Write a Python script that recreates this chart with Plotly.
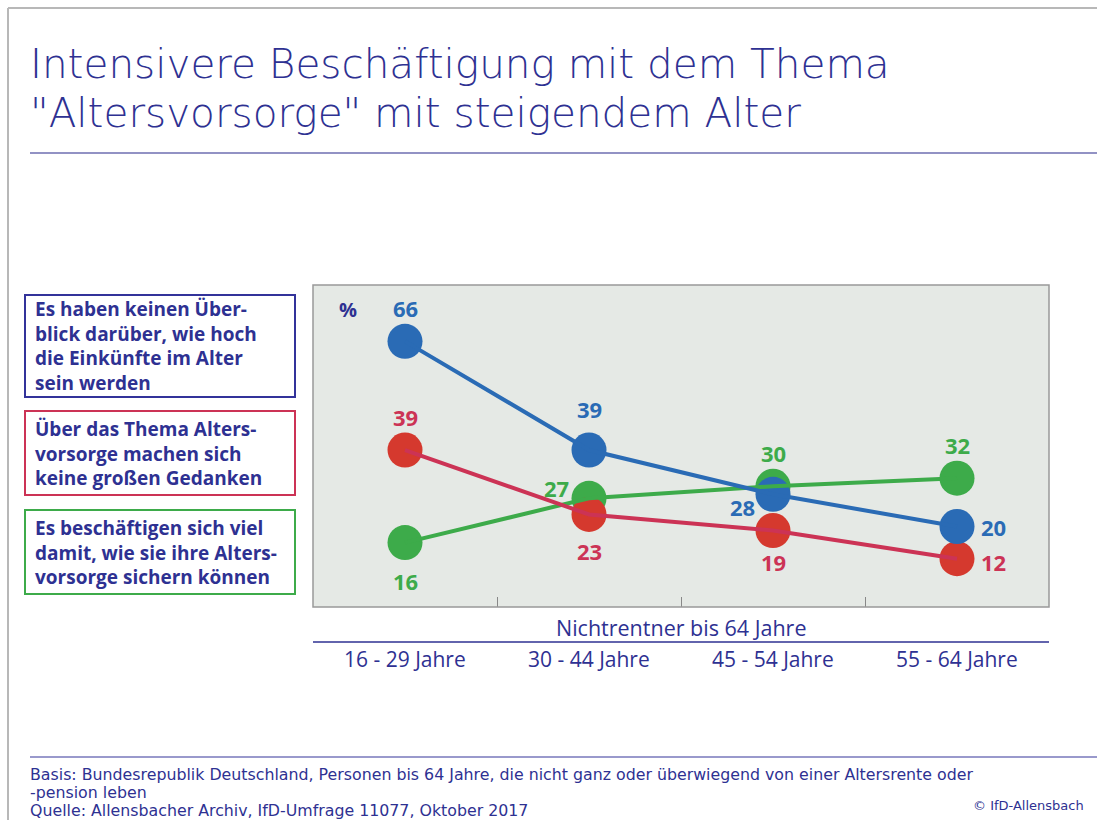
import plotly.graph_objects as go

W, H = 1097, 820

categories = ["16 - 29 Jahre", "30 - 44 Jahre", "45 - 54 Jahre", "55 - 64 Jahre"]
group_label = "Nichtrentner bis 64 Jahre"

series_names = [
    ["Es haben keinen Über-", "blick darüber, wie hoch", "die Einkünfte im Alter", "sein werden"],
    ["Über das Thema Alters-", "vorsorge machen sich", "keine großen Gedanken"],
    ["Es beschäftigen sich viel", "damit, wie sie ihre Alters-", "vorsorge sichern können"],
]
blue_values = [66, 39, 28, 20]
red_values = [39, 23, 19, 12]
green_values = [16, 27, 30, 32]

title_lines = ["Intensivere Beschäftigung mit dem Thema", "\"Altersvorsorge\" mit steigendem Alter"]
footer_lines = [
    "Basis: Bundesrepublik Deutschland, Personen bis 64 Jahre, die nicht ganz oder überwiegend von einer Altersrente oder",
    "-pension leben",
    "Quelle: Allensbacher Archiv, IfD-Umfrage 11077, Oktober 2017",
]
copyright_text = "© IfD-Allensbach"

NAVY = "#2e3192"
BLUE = "#2a6bb5"
GREEN = "#3dab4a"
RED_LINE = "#cc3355"
RED_MARK = "#d5392e"
FONT = "'Open Sans', 'DejaVu Sans', sans-serif"
WIDE = "'DejaVu Sans', 'Open Sans', sans-serif"

def px(x):
    return x / W

def py(y):
    return 1 - y / H

series = [
    (green_values, GREEN, GREEN, GREEN, [(0, -38), (-33, 10), (0, 33), (0, 33)], series_names[2], "#3dab4a"),
    (red_values, RED_LINE, RED_MARK, RED_LINE, [(0, 33), (0, -37), (0, -31), (36, -3)], series_names[1], "#cc3355"),
    (blue_values, BLUE, BLUE, BLUE, [(0, 33), (0, 41), (-31, -13), (36, 0)], series_names[0], "#33339a"),
]

xs = list(range(len(categories)))
fig = go.Figure()

for vals, lc, mc, tc, offs, name, box in series:
    fig.add_trace(go.Scatter(x=xs, y=vals, mode="markers",
                             marker=dict(size=35, color=mc, line=dict(width=0)),
                             showlegend=False, hoverinfo="skip"))
for vals, lc, mc, tc, offs, name, box in series:
    fig.add_trace(go.Scatter(x=xs, y=vals, mode="lines",
                             line=dict(color=lc, width=4),
                             showlegend=False, hoverinfo="skip"))

annotations = []
for vals, lc, mc, tc, offs, name, box in series:
    for i, v in enumerate(vals):
        dx, dy = offs[i]
        annotations.append(dict(x=i, y=v, xref="x", yref="y", text=f"<b>{v}</b>",
                                showarrow=False, xshift=dx, yshift=dy,
                                font=dict(family=FONT, size=22, color=tc)))

annotations.append(dict(x=px(337), y=py(309), xref="paper", yref="paper", text="<b>%</b>",
                        showarrow=False, font=dict(family=FONT, size=20, color=NAVY)))

for i, t in enumerate(title_lines):
    annotations.append(dict(x=px(28), y=py(64 + i * 49), xref="paper", yref="paper", text=t,
                            xanchor="left", yanchor="middle", showarrow=False,
                            font=dict(family=WIDE, size=40.5, color=NAVY, weight=200)))

for i, c in enumerate(categories):
    annotations.append(dict(x=i, y=py(659), xref="x", yref="paper", text=c, showarrow=False,
                            yanchor="middle", font=dict(family=FONT, size=21, color=NAVY)))
annotations.append(dict(x=px(681), y=py(627), xref="paper", yref="paper", text=group_label,
                        showarrow=False, yanchor="middle", font=dict(family=FONT, size=21.5, color=NAVY)))

boxes = [(295, 397), (411, 495), (510, 594)]
shapes = []
order = [series[2], series[1], series[0]]
for (y0, y1), s in zip(boxes, order):
    lines, box = s[5], s[6]
    shapes.append(dict(type="rect", xref="paper", yref="paper", x0=px(25), x1=px(295),
                       y0=py(y0), y1=py(y1), line=dict(color=box, width=2), fillcolor="white"))
    annotations.append(dict(x=px(33), y=py((y0 + y1) / 2), xref="paper", yref="paper",
                            text="<b>" + "<br>".join(lines) + "</b>",
                            xanchor="left", yanchor="middle", align="left", showarrow=False,
                            font=dict(family=FONT, size=19, color=NAVY)))

for i, t in enumerate(footer_lines):
    annotations.append(dict(x=px(28), y=py(774 + i * 18), xref="paper", yref="paper", text=t,
                            xanchor="left", yanchor="middle", showarrow=False,
                            font=dict(family=WIDE, size=15.8, color=NAVY)))
annotations.append(dict(x=px(1086), y=py(805), xref="paper", yref="paper", text=copyright_text,
                        xanchor="right", yanchor="middle", showarrow=False,
                        font=dict(family=WIDE, size=13, color=NAVY)))

shapes += [
    dict(type="line", xref="paper", yref="paper", x0=px(8), x1=px(8), y0=py(8), y1=py(820),
         line=dict(color="#b8b8b8", width=2)),
    dict(type="line", xref="paper", yref="paper", x0=px(8), x1=px(1097), y0=py(8), y1=py(8),
         line=dict(color="#b8b8b8", width=2)),
    dict(type="line", xref="paper", yref="paper", x0=px(30), x1=px(1097), y0=py(153), y1=py(153),
         line=dict(color="#6e6eb0", width=1.5)),
    dict(type="line", xref="paper", yref="paper", x0=px(30), x1=px(1097), y0=py(757), y1=py(757),
         line=dict(color="#7777bb", width=1.5)),
    dict(type="line", xref="paper", yref="paper", x0=px(313), x1=px(1049), y0=py(642), y1=py(642),
         line=dict(color=NAVY, width=1.5)),
    dict(type="rect", xref="paper", yref="paper", x0=px(313), x1=px(1049), y0=py(607), y1=py(285),
         line=dict(color="#999999", width=1.5), layer="above"),
]

fig.update_layout(
    width=W, height=H,
    margin=dict(l=0, r=0, t=0, b=0),
    paper_bgcolor="white",
    plot_bgcolor="#e5e9e5",
    xaxis=dict(domain=[px(313), px(1049)], range=[-0.5, 3.5], showgrid=False, zeroline=False,
               tickmode="array", tickvals=[0.5, 1.5, 2.5], ticktext=["", "", ""],
               ticks="inside", ticklen=10, tickcolor="#888888", tickwidth=1, showticklabels=False,
               fixedrange=True),
    yaxis=dict(domain=[py(607), py(285)], range=[0, 80], showgrid=False, zeroline=False,
               showticklabels=False, fixedrange=True),
    annotations=annotations,
    shapes=shapes,
    font=dict(family=FONT, color=NAVY),
)

fig.write_html("out.html", config={"displayModeBar": False},
               post_script="document.body.style.margin='0px';document.body.style.overflow='hidden';")
